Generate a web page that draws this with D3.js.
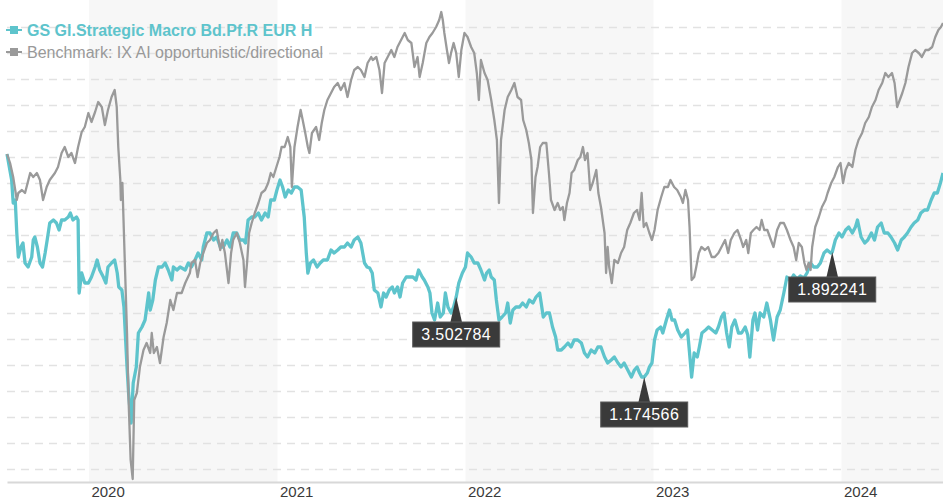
<!DOCTYPE html>
<html><head><meta charset="utf-8">
<script src="https://cdn.jsdelivr.net/npm/d3@7"></script>
<style>body{margin:0;background:#fff}svg{display:block}</style>
</head><body><svg id="chart" width="943" height="500"></svg>
<script>
const seriesNames = ["GS Gl.Strategic Macro Bd.Pf.R EUR H", "Benchmark: IX AI opportunistic/directional"];
const yearTicks = ["2020-01-01","2021-01-01","2022-01-01","2023-01-01","2024-01-01"];
const yearLabels = ["2020","2021","2022","2023","2024"];
const shadedYears = [["2020-01-01","2021-01-01"],["2022-01-01","2023-01-01"],["2024-01-01","2024-07-16"]];
const gridValues = [-31.2,-28.6,-26,-23.4,-20.8,-18.2,-15.6,-13,-10.4,-7.8,-5.2,-2.6,0,2.6,5.2,7.8,10.4,13];
const flagDates = ["2021-12-14","2022-12-14","2023-12-14"];
const flagLabels = ["3.502784","1.174566","1.892241"];

const benchDates = ["2019-07-26","2019-08-01","2019-08-07","2019-08-14","2019-08-17","2019-08-24","2019-08-30","2019-09-09","2019-09-15","2019-09-22","2019-09-28","2019-10-04","2019-10-11","2019-10-17","2019-10-27","2019-11-02","2019-11-09","2019-11-15","2019-11-22","2019-11-28","2019-12-05","2019-12-11","2019-12-18","2019-12-24","2019-12-31",
"2020-01-06","2020-01-13","2020-01-19","2020-01-26","2020-02-01","2020-02-07","2020-02-14","2020-02-20","2020-02-24","2020-02-27","2020-03-02","2020-03-03","2020-03-06","2020-03-11","2020-03-15","2020-03-18","2020-03-22","2020-03-26","2020-03-29","2020-04-03","2020-04-09","2020-04-16","2020-04-22","2020-04-29","2020-05-02","2020-05-06","2020-05-12","2020-05-18","2020-05-25","2020-05-31","2020-06-07","2020-06-13","2020-06-20","2020-06-29","2020-07-06","2020-07-15","2020-07-18","2020-07-25","2020-07-30","2020-08-04","2020-08-10","2020-08-17","2020-08-23","2020-08-30","2020-09-05","2020-09-12","2020-09-16","2020-09-21","2020-09-28","2020-10-03","2020-10-07","2020-10-14","2020-10-20","2020-10-27","2020-10-30","2020-11-03","2020-11-07","2020-11-12","2020-11-18","2020-11-25","2020-12-01","2020-12-08","2020-12-14","2020-12-19","2020-12-24","2020-12-30",
"2021-01-05","2021-01-09","2021-01-15","2021-01-21","2021-01-26","2021-01-29","2021-02-03","2021-02-09","2021-02-15","2021-02-19","2021-02-24","2021-03-01","2021-03-04","2021-03-09","2021-03-17","2021-03-23","2021-03-28","2021-04-02","2021-04-08","2021-04-15","2021-04-21","2021-04-28","2021-05-04","2021-05-11","2021-05-17","2021-05-24","2021-05-30","2021-06-06","2021-06-12","2021-06-19","2021-06-25","2021-07-02","2021-07-05","2021-07-12","2021-07-18","2021-07-23","2021-07-28","2021-08-03","2021-08-10","2021-08-16","2021-08-22","2021-08-29","2021-09-05","2021-09-11","2021-09-18","2021-09-24","2021-09-30","2021-10-04","2021-10-10","2021-10-17","2021-10-23","2021-10-29","2021-11-05","2021-11-11","2021-11-15","2021-11-18","2021-11-21","2021-11-26","2021-11-30","2021-12-04","2021-12-09","2021-12-14","2021-12-19","2021-12-24","2021-12-30",
"2022-01-05","2022-01-12","2022-01-18","2022-01-23","2022-01-27","2022-01-31","2022-02-07","2022-02-13","2022-02-20","2022-02-26","2022-03-03","2022-03-07","2022-03-11","2022-03-18","2022-03-24","2022-03-31","2022-04-06","2022-04-12","2022-04-19","2022-04-23","2022-04-29","2022-05-04","2022-05-09","2022-05-12","2022-05-17","2022-05-21","2022-05-26","2022-05-31","2022-06-07","2022-06-12","2022-06-16","2022-06-23","2022-06-29","2022-07-04","2022-07-09","2022-07-12","2022-07-17","2022-07-22","2022-07-26","2022-07-31","2022-08-07","2022-08-12","2022-08-17","2022-08-21","2022-08-26","2022-08-31","2022-09-05","2022-09-12","2022-09-16","2022-09-21","2022-09-28","2022-10-01","2022-10-04","2022-10-07","2022-10-12","2022-10-17","2022-10-24","2022-10-30","2022-11-05","2022-11-11","2022-11-17","2022-11-24","2022-11-30","2022-12-05","2022-12-09","2022-12-13","2022-12-18","2022-12-24","2022-12-29",
"2023-01-03","2023-01-09","2023-01-16","2023-01-22","2023-01-29","2023-02-03","2023-02-10","2023-02-16","2023-02-23","2023-02-27","2023-03-04","2023-03-09","2023-03-12","2023-03-16","2023-03-21","2023-03-25","2023-03-30","2023-04-04","2023-04-11","2023-04-17","2023-04-24","2023-04-30","2023-05-07","2023-05-13","2023-05-20","2023-05-26","2023-05-31","2023-06-07","2023-06-13","2023-06-20","2023-06-24","2023-06-30","2023-07-04","2023-07-09","2023-07-14","2023-07-20","2023-07-26","2023-07-30","2023-08-04","2023-08-10","2023-08-17","2023-08-22","2023-08-29","2023-09-04","2023-09-11","2023-09-17","2023-09-24","2023-09-30","2023-10-05","2023-10-10","2023-10-16","2023-10-21","2023-10-25","2023-10-29","2023-11-02","2023-11-05","2023-11-11","2023-11-18","2023-11-24","2023-12-01","2023-12-05","2023-12-12","2023-12-18","2023-12-25","2023-12-30",
"2024-01-04","2024-01-09","2024-01-15","2024-01-22","2024-01-28","2024-02-03","2024-02-10","2024-02-16","2024-02-23","2024-02-29","2024-03-07","2024-03-13","2024-03-20","2024-03-26","2024-04-01","2024-04-08","2024-04-13","2024-04-18","2024-04-23","2024-04-28","2024-05-04","2024-05-10","2024-05-17","2024-05-23","2024-05-30","2024-06-05","2024-06-12","2024-06-18","2024-06-25","2024-07-01","2024-07-07","2024-07-12","2024-07-16"];
const benchValues = [0.3,-0.6,-2.0,-4.3,-3.6,-3.3,-3.6,-1.6,-2.0,-1.6,-2.3,-4.3,-3.0,-2.3,-1.6,-1.0,0.4,1.0,0.0,0.4,-0.6,1.0,2.5,3.0,4.4,
3.5,4.5,5.5,5.0,3.2,4.7,6.0,6.7,5.0,1.0,-2.3,-4.3,-2.6,-11.0,-17.6,-24.3,-30.3,-32.2,-24.3,-23.6,-21.0,-19.3,-18.6,-19.6,-17.6,-19.6,-19.0,-20.6,-18.0,-16.6,-14.3,-15.3,-13.6,-13.6,-12.6,-11.6,-10.6,-10.3,-12.0,-10.6,-9.6,-8.6,-8.3,-7.6,-7.3,-9.3,-8.3,-9.6,-12.6,-9.6,-8.3,-7.6,-8.6,-10.3,-13.0,-10.6,-7.6,-6.6,-5.6,-4.6,-3.6,-3.3,-2.6,-1.6,-2.0,-1.0,
0.0,1.0,1.0,2.0,1.0,-3.0,1.0,3.0,4.7,3.7,2.4,1.0,0.4,2.4,3.0,1.7,3.4,4.7,5.7,6.4,7.0,7.4,6.7,7.4,6.0,7.7,8.7,9.0,8.7,8.0,9.4,10.0,9.7,10.0,8.7,6.4,9.4,10.0,10.7,10.0,11.0,11.7,12.4,11.7,11.4,9.0,10.0,8.0,9.4,11.4,12.0,12.4,13.0,13.7,14.5,13.7,12.4,10.7,9.4,10.4,11.4,10.4,8.0,10.7,12.4,
12.0,11.0,10.4,8.4,5.7,9.7,8.4,7.7,5.7,3.7,1.7,-4.6,1.7,4.7,6.0,6.7,7.4,6.0,5.7,3.7,2.7,1.4,-0.3,-5.6,-2.0,-1.0,1.0,1.4,1.4,-1.6,-4.3,-5.3,-4.6,-5.3,-5.0,-6.3,-4.6,-3.6,-1.6,-1.3,-0.3,0.0,1.0,-0.3,0.4,-3.3,-2.6,-1.3,-3.6,-5.0,-7.6,-11.6,-9.0,-11.0,-12.6,-10.3,-10.6,-9.6,-9.0,-7.3,-6.6,-5.6,-5.3,-6.3,-3.6,-7.0,-6.6,-7.6,-8.3,
-7.3,-5.3,-4.0,-3.0,-3.0,-2.3,-3.0,-3.3,-4.0,-4.6,-3.3,-4.3,-7.0,-12.3,-12.0,-11.0,-9.6,-9.0,-9.3,-9.0,-10.0,-10.0,-9.6,-9.0,-8.3,-9.6,-8.3,-7.6,-7.3,-8.3,-9.0,-8.3,-9.6,-7.6,-7.3,-7.0,-7.3,-6.3,-7.3,-7.3,-8.3,-9.0,-7.3,-6.6,-6.6,-7.3,-8.3,-9.0,-10.3,-8.6,-9.0,-10.6,-11.3,-10.6,-11.3,-9.0,-7.0,-6.0,-5.0,-4.3,-3.6,-2.6,-2.0,-1.0,-0.6,
-2.6,-1.3,-0.6,-1.0,0.7,1.7,2.4,3.4,4.0,5.0,5.7,6.7,7.4,8.4,8.0,8.4,7.4,5.0,5.7,6.4,7.4,9.0,10.4,10.7,10.4,10.0,10.7,10.7,11.0,12.0,12.7,13.0,13.4];

const fundDates = ["2019-07-26","2019-08-04","2019-08-07","2019-08-11","2019-08-14","2019-08-17","2019-08-22","2019-08-26","2019-08-30","2019-09-05","2019-09-12","2019-09-15","2019-09-18","2019-09-23","2019-09-28","2019-10-03","2019-10-08","2019-10-12","2019-10-17","2019-10-24","2019-10-30","2019-11-04","2019-11-09","2019-11-15","2019-11-22","2019-11-26","2019-12-01","2019-12-08","2019-12-11","2019-12-13","2019-12-18","2019-12-24","2019-12-31",
"2020-01-06","2020-01-13","2020-01-17","2020-01-22","2020-01-29","2020-02-03","2020-02-07","2020-02-14","2020-02-20","2020-02-25","2020-02-28","2020-03-05","2020-03-09","2020-03-15","2020-03-18","2020-03-23","2020-03-27","2020-04-02","2020-04-06","2020-04-13","2020-04-19","2020-04-26","2020-04-29","2020-05-04","2020-05-09","2020-05-15","2020-05-22","2020-05-28","2020-06-03","2020-06-10","2020-06-13","2020-06-20","2020-06-26","2020-07-06","2020-07-12","2020-07-18","2020-07-25","2020-07-31","2020-08-07","2020-08-10","2020-08-17","2020-08-23","2020-08-30","2020-09-05","2020-09-12","2020-09-18","2020-09-25","2020-10-01","2020-10-07","2020-10-14","2020-10-20","2020-10-27","2020-10-31","2020-11-05","2020-11-12","2020-11-18","2020-11-25","2020-12-01","2020-12-08","2020-12-14","2020-12-19","2020-12-26","2020-12-31",
"2021-01-06","2021-01-11","2021-01-16","2021-01-22","2021-01-28","2021-02-03","2021-02-09","2021-02-16","2021-02-22","2021-02-26","2021-03-01","2021-03-06","2021-03-12","2021-03-19","2021-03-25","2021-03-31","2021-04-08","2021-04-15","2021-04-21","2021-04-28","2021-05-04","2021-05-11","2021-05-17","2021-05-24","2021-05-30","2021-06-06","2021-06-12","2021-06-19","2021-06-24","2021-06-29","2021-07-04","2021-07-08","2021-07-15","2021-07-21","2021-07-26","2021-07-31","2021-08-06","2021-08-12","2021-08-16","2021-08-22","2021-08-27","2021-09-01","2021-09-08","2021-09-14","2021-09-21","2021-09-27","2021-10-02","2021-10-09","2021-10-13","2021-10-20","2021-10-24","2021-10-28","2021-11-02","2021-11-08","2021-11-13","2021-11-19","2021-11-23","2021-11-28","2021-12-04","2021-12-09","2021-12-14","2021-12-19","2021-12-26",
"2022-01-01","2022-01-05","2022-01-12","2022-01-18","2022-01-25","2022-01-31","2022-02-07","2022-02-11","2022-02-16","2022-02-20","2022-02-26","2022-03-02","2022-03-07","2022-03-13","2022-03-20","2022-03-24","2022-03-29","2022-04-03","2022-04-09","2022-04-16","2022-04-22","2022-04-29","2022-05-05","2022-05-12","2022-05-18","2022-05-25","2022-05-28","2022-06-01","2022-06-07","2022-06-13","2022-06-19","2022-06-25","2022-06-29","2022-07-06","2022-07-12","2022-07-19","2022-07-25","2022-07-31","2022-08-07","2022-08-14","2022-08-20","2022-08-26","2022-09-02","2022-09-09","2022-09-15","2022-09-21","2022-09-28","2022-10-04","2022-10-11","2022-10-17","2022-10-24","2022-10-30","2022-11-05","2022-11-12","2022-11-19","2022-11-25","2022-11-30","2022-12-05","2022-12-09","2022-12-14","2022-12-20","2022-12-24","2022-12-29",
"2023-01-03","2023-01-08","2023-01-15","2023-01-19","2023-01-26","2023-02-01","2023-02-06","2023-02-11","2023-02-17","2023-02-24","2023-03-03","2023-03-08","2023-03-12","2023-03-16","2023-03-21","2023-03-27","2023-03-31","2023-04-05","2023-04-12","2023-04-18","2023-04-25","2023-05-02","2023-05-07","2023-05-13","2023-05-18","2023-05-23","2023-05-28","2023-06-02","2023-06-08","2023-06-15","2023-06-21","2023-06-28","2023-07-03","2023-07-07","2023-07-13","2023-07-17","2023-07-22","2023-07-27","2023-08-03","2023-08-09","2023-08-16","2023-08-22","2023-08-29","2023-09-04","2023-09-11","2023-09-17","2023-09-24","2023-09-30","2023-10-07","2023-10-13","2023-10-20","2023-10-26","2023-11-02","2023-11-08","2023-11-15","2023-11-21","2023-11-28","2023-12-04","2023-12-11","2023-12-14","2023-12-20","2023-12-27",
"2024-01-02","2024-01-09","2024-01-15","2024-01-22","2024-01-28","2024-02-01","2024-02-08","2024-02-15","2024-02-21","2024-02-28","2024-03-05","2024-03-11","2024-03-18","2024-03-24","2024-03-31","2024-04-06","2024-04-13","2024-04-19","2024-04-26","2024-05-02","2024-05-08","2024-05-15","2024-05-21","2024-05-28","2024-06-03","2024-06-10","2024-06-16","2024-06-23","2024-06-29","2024-07-05","2024-07-11","2024-07-16"];
const fundValues = [0.3,-2.3,-4.6,-4.3,-7.6,-10.0,-9.0,-8.6,-10.6,-11.0,-10.0,-8.3,-8.0,-9.0,-10.6,-11.0,-9.6,-8.3,-6.6,-6.3,-6.6,-7.3,-6.3,-6.3,-6.0,-5.6,-6.3,-6.0,-6.3,-13.6,-11.6,-12.6,-12.6,
-12.0,-11.0,-10.3,-11.3,-12.0,-12.6,-11.0,-10.6,-10.3,-11.6,-13.0,-13.3,-15.0,-21.0,-23.6,-26.6,-22.6,-21.0,-17.6,-17.0,-16.3,-13.6,-15.3,-14.3,-12.3,-11.0,-11.0,-10.6,-11.3,-12.3,-11.0,-11.3,-11.0,-11.3,-10.6,-11.0,-10.3,-9.6,-10.3,-9.0,-7.6,-7.6,-8.3,-8.0,-9.0,-9.0,-8.3,-9.0,-7.6,-7.6,-8.3,-8.3,-8.6,-6.3,-6.0,-6.0,-5.6,-6.3,-5.6,-6.0,-4.3,-4.3,-3.3,
-2.3,-3.0,-4.0,-3.3,-3.6,-3.0,-3.0,-3.3,-6.0,-9.6,-11.6,-10.6,-10.3,-11.0,-10.6,-10.3,-10.3,-9.3,-9.6,-9.3,-9.0,-9.0,-8.6,-9.0,-8.3,-8.0,-8.6,-10.6,-11.0,-11.1,-11.6,-13.3,-13.6,-15.0,-13.6,-14.0,-13.3,-13.0,-13.6,-13.0,-14.0,-12.6,-12.0,-12.0,-12.0,-12.3,-11.3,-12.0,-12.3,-13.0,-13.6,-15.6,-16.3,-14.6,-16.0,-15.6,-13.6,-15.0,-15.6,-15.0,-14.0,-12.6,-11.6,
-11.0,-9.6,-10.0,-10.6,-10.6,-11.3,-12.3,-11.6,-11.3,-12.0,-12.3,-14.3,-16.3,-16.0,-15.6,-14.6,-16.6,-15.3,-15.0,-15.0,-14.6,-15.0,-14.3,-14.6,-14.0,-13.6,-14.6,-16.0,-15.6,-15.6,-17.0,-18.0,-19.3,-19.3,-19.0,-18.6,-19.0,-18.3,-18.3,-18.6,-19.6,-20.0,-19.3,-19.6,-19.0,-19.0,-20.0,-20.6,-20.3,-20.0,-20.6,-21.0,-20.6,-21.3,-22.0,-21.3,-21.0,-21.6,-22.0,-22.0,-21.6,-21.0,-20.6,
-18.3,-17.3,-17.0,-17.6,-16.3,-15.3,-16.3,-16.3,-17.3,-18.0,-17.6,-17.3,-19.6,-22.0,-19.6,-20.0,-19.0,-17.6,-17.3,-17.0,-17.3,-17.6,-17.0,-16.0,-15.6,-17.6,-19.0,-17.0,-16.3,-17.6,-17.6,-17.0,-17.8,-20.0,-16.3,-15.6,-17.3,-15.6,-16.0,-14.6,-16.3,-18.3,-16.0,-15.3,-13.6,-12.0,-12.4,-11.8,-12.2,-11.9,-12.1,-11.6,-10.6,-11.0,-11.0,-10.6,-9.6,-9.3,-9.6,-9.5,-8.3,-7.6,
-8.0,-7.3,-7.0,-7.6,-7.0,-6.3,-8.0,-8.6,-8.3,-7.6,-8.3,-7.0,-6.6,-7.6,-7.6,-8.0,-8.6,-9.3,-8.3,-8.0,-7.6,-7.0,-6.6,-6.3,-5.6,-5.3,-5.3,-4.3,-3.6,-3.6,-2.6,-1.6];

const colors = ["#5ec4cc", "#9a9a9a"];
const legendTextColors = ["#5ec4cc", "#999999"];
const left = 7, right = 943, bottom = 482;
const parse = d3.timeParse("%Y-%m-%d");
const x = d3.scaleTime().domain([parse("2019-07-26"), parse("2024-07-16")]).range([left, right]);
const y = d3.scaleLinear().domain([-32.5, 15.7]).range([bottom, 0]);
const svg = d3.select("#chart");

// year bands
svg.append("g").selectAll("rect").data(shadedYears).join("rect")
  .attr("x", d => x(parse(d[0]))).attr("y", 0)
  .attr("width", d => x(parse(d[1])) - x(parse(d[0]))).attr("height", bottom)
  .attr("fill", "#f7f7f7");

// grid lines
const grid = svg.append("g").attr("transform", `translate(${left},0)`)
  .call(d3.axisLeft(y).tickValues(gridValues).tickSize(-(right - left)).tickFormat(""));
grid.select(".domain").remove();
grid.selectAll(".tick line").attr("stroke", "#e2e2e2").attr("stroke-width", 1.5).attr("stroke-dasharray", "8,6");

// x axis
const xa = svg.append("g").attr("transform", `translate(0,${bottom})`)
  .call(d3.axisBottom(x).tickValues(yearTicks.map(parse)).tickSize(0).tickSizeOuter(0).tickPadding(4)
    .tickFormat((d, i) => yearLabels[i]));
xa.select(".domain").attr("stroke", "#d8d8d8").attr("stroke-width", 2);
xa.selectAll(".tick text").attr("text-anchor", "start").attr("dx", 2)
  .style("font-family", "'Liberation Sans', Arial, sans-serif").style("font-size", "15px").attr("fill", "#3a3a3a");

// lines
const line = d3.line().x(d => x(d.date)).y(d => y(d.value));
const fundData = fundDates.map((d, i) => ({date: parse(d), value: fundValues[i]}));
const benchData = benchDates.map((d, i) => ({date: parse(d), value: benchValues[i]}));
svg.append("path").datum(fundData).attr("d", line).attr("fill", "none")
  .attr("stroke", colors[0]).attr("stroke-width", 3.3).attr("stroke-linejoin", "round");
svg.append("path").datum(benchData).attr("d", line).attr("fill", "none")
  .attr("stroke", colors[1]).attr("stroke-width", 2.3).attr("stroke-linejoin", "round");

// legend
const lg = svg.append("g");
seriesNames.forEach((name, i) => {
  const cy = i === 0 ? 30 : 52;
  lg.append("line").attr("x1", 6).attr("x2", 22).attr("y1", cy).attr("y2", cy)
    .attr("stroke", colors[i]).attr("stroke-width", 2);
  lg.append("rect").attr("x", 10).attr("y", cy - 4).attr("width", 8).attr("height", 8).attr("fill", colors[i]);
  lg.append("text").attr("x", 27).attr("y", cy + 5.7).text(name)
    .style("font-family", "'Liberation Sans', Arial, sans-serif").style("font-size", "16px")
    .style("font-weight", i === 0 ? "bold" : "normal").attr("fill", legendTextColors[i]);
});

// flags
const fg = svg.append("g");
const bis = d3.bisector(d => d.date).left;
flagDates.forEach((d, i) => {
  const dt = parse(d);
  const p = fundData[Math.min(bis(fundData, dt), fundData.length - 1)];
  const tx = x(p.date), ty = y(p.value);
  const bw = 87, bh = 25, bt = ty + 25;
  fg.append("path").attr("d", `M${tx},${ty} L${tx + 6},${bt + 1} L${tx - 6},${bt + 1}Z`).attr("fill", "#3a3a3a");
  fg.append("rect").attr("x", tx - bw / 2).attr("y", bt).attr("width", bw).attr("height", bh)
    .attr("fill", "#3a3a3a").attr("stroke", "#5a5a5a").attr("stroke-width", 1);
  fg.append("text").attr("x", tx).attr("y", bt + 18).attr("text-anchor", "middle").attr("fill", "#fff")
    .style("font-family", "'Liberation Sans', Arial, sans-serif").style("font-size", "16px")
    .style("letter-spacing", "0.4px").text(flagLabels[i]);
});
</script>
</body></html>
